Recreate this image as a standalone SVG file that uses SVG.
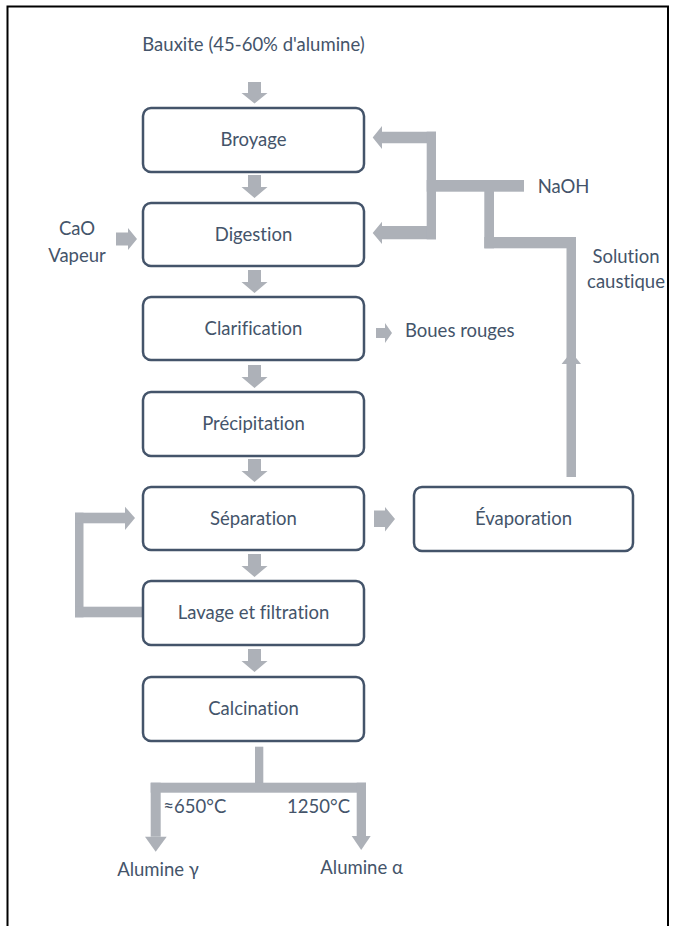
<svg xmlns="http://www.w3.org/2000/svg" width="675" height="926" viewBox="0 0 675 926">
<style>
text{font-family:Lato,"Open Sans","Liberation Sans",sans-serif;font-size:18.5px;fill:#44546A;font-variant-ligatures:none}
.box{fill:#FFFFFF;stroke:#44546A;stroke-width:2.5}
.lbl{text-anchor:middle}
.ar{fill:#ADB1B8;stroke:none}
</style>
<rect x="0" y="0" width="675" height="926" fill="#FFFFFF"/>
<path d="M7.5,940 V6.5 H668 V940" fill="none" stroke="#000000" stroke-width="2"/>
<g id="connectors">
<polygon class="ar" points="248,82 261,82 261,93 267.5,93 254.5,103.5 241.5,93 248,93"/>
<polygon class="ar" points="248,175 261,175 261,187 267.5,187 254.5,198 241.5,187 248,187"/>
<polygon class="ar" points="248,270 261,270 261,282 267.5,282 254.5,293 241.5,282 248,282"/>
<polygon class="ar" points="248,365 261,365 261,377 267.5,377 254.5,388 241.5,377 248,377"/>
<polygon class="ar" points="248,459 261,459 261,471 267.5,471 254.5,482 241.5,471 248,471"/>
<polygon class="ar" points="248,554 261,554 261,566 267.5,566 254.5,577 241.5,566 248,566"/>
<polygon class="ar" points="248,649 261,649 261,661 267.5,661 254.5,672 241.5,661 248,661"/>
<polygon class="ar" points="116,232.5 128,232.5 128,228 137,239 128,250 128,245.5 116,245.5"/>
<polygon class="ar" points="376,328 385,328 385,323 392,333 385,343 385,338 376,338"/>
<polygon class="ar" points="374,510.5 385,510.5 385,507 395,519 385,531.5 385,527 374,527"/>
<polygon class="ar" points="436,131.7 436,143.3 382,143.3 382,149 372.7,137.5 382,126 382,131.7"/>
<polygon class="ar" points="436,226 436,239.3 382,239.3 382,244 372.7,233 382,221.7 382,226"/>
<rect class="ar" x="426.7" y="131.7" width="9.3" height="107.6"/>
<rect class="ar" x="426.7" y="180" width="97.3" height="11.7"/>
<rect class="ar" x="484.3" y="180" width="9.7" height="68.3"/>
<rect class="ar" x="484.3" y="237" width="91.7" height="11.3"/>
<rect class="ar" x="566.5" y="237" width="9.5" height="240"/>
<polygon class="ar" points="571.3,352 581,364 561.6,364"/>
<rect class="ar" x="75" y="512.7" width="8.5" height="104.6"/>
<rect class="ar" x="75" y="512.7" width="50" height="10.6"/>
<polygon class="ar" points="125,506.7 135,518 125,530"/>
<rect class="ar" x="75" y="606.7" width="68" height="10.6"/>
<rect class="ar" x="255" y="746.7" width="8.3" height="40"/>
<rect class="ar" x="150.7" y="782.7" width="215.3" height="10"/>
<rect class="ar" x="150.7" y="782.7" width="10" height="54"/>
<polygon class="ar" points="145,836.7 166.7,836.7 155.7,851.7"/>
<rect class="ar" x="356.7" y="782.7" width="9.3" height="54"/>
<polygon class="ar" points="351.7,836 370.7,836 361.2,850"/>
</g>
<g id="bauxite"><text class="lbl" x="253.5" y="50.5">Bauxite (45-60% d'alumine)</text></g>
<g id="broyage"><rect class="box" x="143" y="108" width="221" height="64" rx="8"/><text class="lbl" x="253.5" y="146">Broyage</text></g>
<g id="digestion"><rect class="box" x="143" y="203" width="221" height="63" rx="8"/><text class="lbl" x="253.5" y="241">Digestion</text></g>
<g id="clarification"><rect class="box" x="143" y="297" width="221" height="63" rx="8"/><text class="lbl" x="253.5" y="335">Clarification</text></g>
<g id="precipitation"><rect class="box" x="143" y="392" width="221" height="64" rx="8"/><text class="lbl" x="253.5" y="430">Précipitation</text></g>
<g id="separation"><rect class="box" x="143" y="487" width="221" height="63" rx="8"/><text class="lbl" x="253.5" y="525">Séparation</text></g>
<g id="lavage"><rect class="box" x="143" y="581" width="221" height="64" rx="8"/><text class="lbl" x="253.5" y="619">Lavage et filtration</text></g>
<g id="calcination"><rect class="box" x="143" y="677" width="221" height="64" rx="8"/><text class="lbl" x="253.5" y="715">Calcination</text></g>
<g id="evaporation"><rect class="box" x="414" y="487" width="219" height="64" rx="8"/><text class="lbl" x="523.5" y="525">Évaporation</text></g>
<g id="naoh"><text x="537.7" y="193">NaOH</text></g>
<g id="solution"><text class="lbl" x="626" y="263">Solution</text><text class="lbl" x="626" y="288">caustique</text></g>
<g id="cao"><text class="lbl" x="77" y="235">CaO</text><text class="lbl" x="77" y="262">Vapeur</text></g>
<g id="boues"><text x="405" y="337">Boues rouges</text></g>
<g id="t650"><text x="163.3" y="813">≈650°C</text></g>
<g id="t1250"><text x="350" y="813" text-anchor="end">1250°C</text></g>
<g id="gamma"><text class="lbl" x="158" y="876">Alumine γ</text></g>
<g id="alpha"><text class="lbl" x="361.6" y="874">Alumine α</text></g>
</svg>
